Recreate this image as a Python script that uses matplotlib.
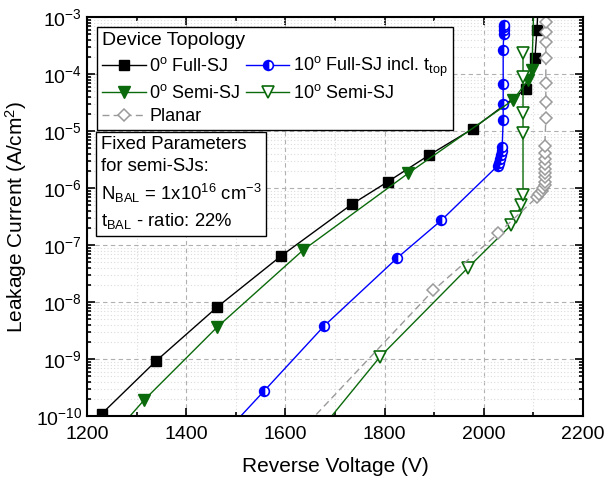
import numpy as np
import matplotlib
matplotlib.use("Agg")
import matplotlib.pyplot as plt
from matplotlib.ticker import LogLocator, MultipleLocator, NullFormatter
from matplotlib.offsetbox import DrawingArea

plt.rcParams['font.family'] = ['Liberation Sans', 'DejaVu Sans']
plt.rcParams['mathtext.default'] = 'regular'
plt.rcParams['axes.unicode_minus'] = False

# 0 deg Full-SJ
full0_v = [1230, 1339, 1462, 1591, 1734, 1807, 1890, 1978, 2085, 2103, 2107, 2110]
full0_j = [1.1e-10, 9.2e-10, 8.1e-9, 6.4e-8, 5.2e-7, 1.3e-6, 3.8e-6, 1.1e-5, 5.5e-5, 1.9e-4, 5.9e-4, 2e-3]

# 10 deg Full-SJ incl. t_top
full10_v = [1440, 1557, 1678, 1825, 1914, 2028, 2031, 2033, 2035, 2037, 2037,
            2039, 2039, 2039, 2039, 2040, 2040, 2040, 2040]
full10_j = [2.2e-11, 2.75e-10, 3.8e-9, 5.9e-8, 2.7e-7, 2.46e-6, 2.8e-6, 3.2e-6, 3.8e-6, 4.4e-6, 5.2e-6,
            1.56e-5, 3.0e-5, 6.6e-5, 2.6e-4, 5.1e-4, 6.0e-4, 6.8e-4, 7.4e-4]

# 0 deg Semi-SJ
semi0_v = [1200, 1315, 1462, 1636, 1847, 2059, 2089, 2097, 2101]
semi0_j = [1.4e-11, 1.9e-10, 3.6e-9, 8.2e-8, 1.8e-6, 3.5e-5, 7.8e-5, 1.2e-4, 2e-3]

# 10 deg Semi-SJ
semi10_v = [1640, 1791, 1968, 2055, 2065, 2075, 2079, 2079, 2079, 2079, 2079]
semi10_j = [2.7e-11, 1.1e-9, 4e-8, 2.24e-7, 3.1e-7, 5.0e-7, 7.5e-7, 9.2e-6, 2.1e-5, 8.9e-5, 2.3e-4]

# Planar
planar_v = [1570, 1898, 2029, 2107, 2111, 2117, 2119, 2123, 2123, 2123, 2123, 2123, 2123,
            2123, 2123, 2123, 2125, 2125, 2125, 2125, 2125, 2125, 2125]
planar_j = [1.5e-11, 1.6e-8, 1.6e-7, 6.9e-7, 7.8e-7, 8.9e-7, 1.0e-6, 1.13e-6, 1.27e-6, 1.55e-6,
            1.8e-6, 2.2e-6, 2.6e-6, 3.2e-6, 4.1e-6, 5.5e-6, 1.7e-5, 3.2e-5, 6.9e-5, 1.9e-4,
            3.6e-4, 5.5e-4, 8.2e-4]

green = '#0b6a0b'
gray = '#9a9a9a'

fig = plt.figure(figsize=(6.06, 4.83), dpi=100)
ax = fig.add_axes([0.1436, 0.1387, 0.8185, 0.826])

l1, = ax.plot(full0_v, full0_j, color='black', lw=1, marker='s', ms=6.5,
              mfc='black', mec='black', label='0$^{o}$ Full-SJ')
l2, = ax.plot(full10_v, full10_j, color='blue', lw=1, marker='o', ms=7,
              fillstyle='left', mfc='blue', mfcalt='white', mec='blue', mew=1.2,
              label='10$^{o}$ Full-SJ incl. t$_{top}$')
l3, = ax.plot(semi0_v, semi0_j, color=green, lw=1, marker='v', ms=8,
              mfc=green, mec=green, label='0$^{o}$ Semi-SJ')
l4, = ax.plot(semi10_v, semi10_j, color=green, lw=1, marker='v', ms=8,
              mfc='white', mec=green, mew=1.2, label='10$^{o}$ Semi-SJ')
l5, = ax.plot(planar_v, planar_j, color=gray, lw=1, ls=(0, (5, 3)), marker='D', ms=6.5,
              mfc='white', mec=gray, mew=1.1, label='Planar')

ax.set_yscale('log')
ax.set_xlim(1200, 2200)
ax.set_ylim(1e-10, 1e-3)
ax.xaxis.set_major_locator(MultipleLocator(200))
ax.xaxis.set_minor_locator(MultipleLocator(100))
ax.yaxis.set_major_locator(LogLocator(base=10, numticks=20))
ax.yaxis.set_minor_locator(LogLocator(base=10, subs=np.arange(2, 10), numticks=20))
ax.yaxis.set_minor_formatter(NullFormatter())

ax.grid(which='major', color='#b0b0b0', ls=(0, (4, 3)), lw=0.8)
ax.grid(which='minor', color='#dcdcdc', ls=(0, (1, 2)), lw=0.8)
ax.set_axisbelow(True)

ax.tick_params(which='both', direction='in', top=True, right=True, labelsize=14, width=1.2)
ax.tick_params(which='major', length=6)
ax.tick_params(axis='x', which='major', pad=7)
ax.tick_params(which='minor', length=3)
for sp in ax.spines.values():
    sp.set_linewidth(1.5)

ax.set_xlabel('Reverse Voltage (V)', fontsize=15, labelpad=10)
ax.set_ylabel('Leakage Current (A/cm$^{2}$)', fontsize=15, labelpad=5)

leg = ax.legend(handles=[l1, l3, l5, l2, l4], ncol=2, title='Device Topology',
                loc='upper left', bbox_to_anchor=(0.02, 0.975), borderaxespad=0,
                fontsize=13, title_fontsize=14, alignment='left',
                handlelength=2.4, handletextpad=0.2, columnspacing=0.3,
                labelspacing=0.3, borderpad=0.3, fancybox=False, framealpha=1,
                edgecolor='black')
leg.get_frame().set_linewidth(1.0)

# keep the legend rows lined up: give row 1 of column 1 the same depth as the t_top entry
fig.canvas.draw()
renderer = fig.canvas.get_renderer()
cols = leg._legend_handle_box.get_children()
item_a = cols[0].get_children()[0]
item_b = cols[1].get_children()[0]
da = -item_a.get_bbox(renderer).y0
db = -item_b.get_bbox(renderer).y0
if db > da:
    d_pt = db * 72.0 / fig.dpi
    item_a.get_children().append(DrawingArea(0, d_pt, 0, d_pt))

ax.text(0.028, 0.703,
        'Fixed Parameters\nfor semi-SJs:\nN$_{BAL}$ = 1x10$^{16}$ cm$^{-3}$\nt$_{BAL}$ - ratio: 22%',
        transform=ax.transAxes, fontsize=13.3, va='top', ha='left', linespacing=1.4,
        bbox=dict(boxstyle='square,pad=0.25', fc='white', ec='black', lw=1.0), zorder=5)

fig.savefig('out.png', dpi=100)
